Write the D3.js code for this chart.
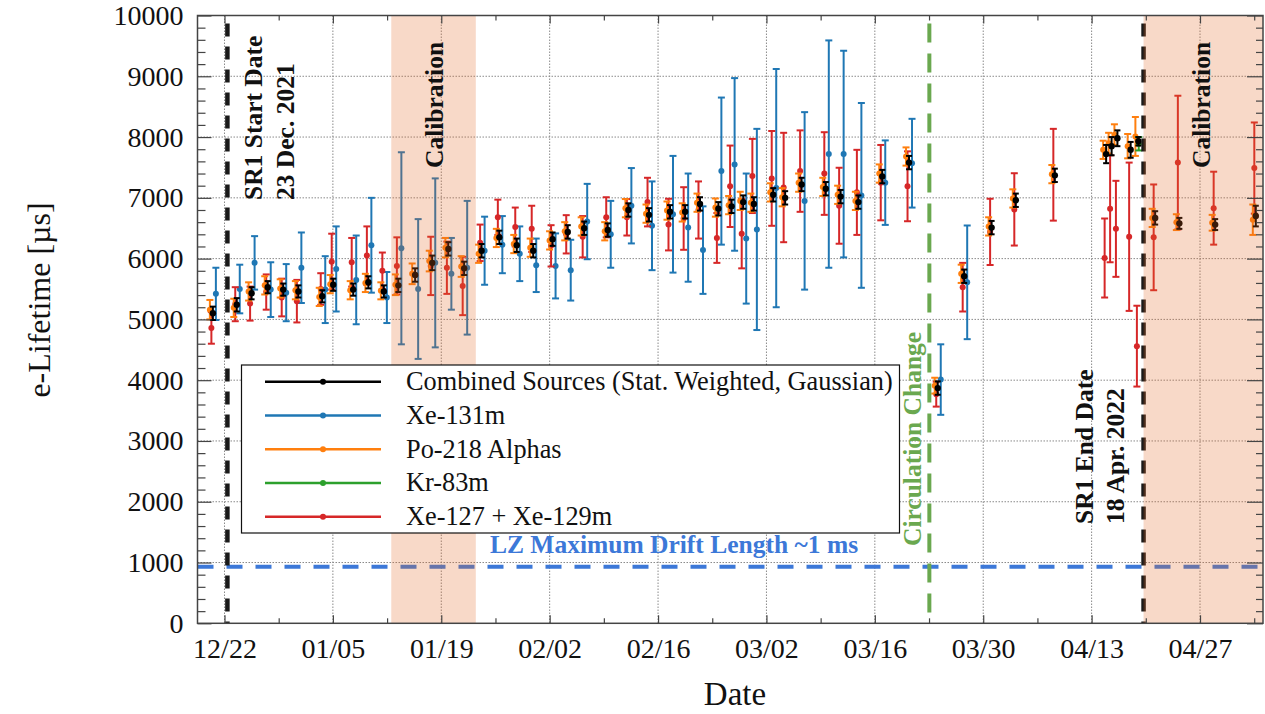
<!DOCTYPE html>
<html>
<head>
<meta charset="utf-8">
<script src="https://cdn.jsdelivr.net/npm/d3@7"></script>
<style>
  html, body { margin: 0; padding: 0; background: #fff; }
  svg { display: block; font-family: "Liberation Serif", "Times New Roman", serif; }
</style>
</head>
<body>
<svg id="chart" width="1265" height="714"></svg>
<script>
// ---- measurement dates (one per analysis window) ----
const groupDates = [
  "2021-12-20 12:00","2021-12-23 14:00","2021-12-25 12:00","2021-12-27 14:00","2021-12-29 14:00",
  "2021-12-31 13:00","2022-01-03 15:00","2022-01-05 01:00","2022-01-07 15:00","2022-01-09 14:00",
  "2022-01-11 14:00","2022-01-13 11:00","2022-01-15 15:00","2022-01-17 20:00","2022-01-19 22:00",
  "2022-01-21 23:00","2022-01-24 05:00","2022-01-26 12:00","2022-01-28 18:00","2022-01-30 21:00",
  "2022-02-02 09:00","2022-02-04 08:00","2022-02-06 11:00","2022-02-09 12:00","2022-02-12 04:00",
  "2022-02-14 20:00","2022-02-17 13:00","2022-02-19 12:00","2022-02-21 10:00","2022-02-23 19:00",
  "2022-02-25 12:00","2022-02-27 00:00","2022-02-28 09:00","2022-03-02 21:00","2022-03-04 10:00",
  "2022-03-06 13:00","2022-03-09 16:00","2022-03-11 14:00","2022-03-13 21:00","2022-03-16 23:00",
  "2022-03-20 10:00","2022-03-24 03:00","2022-03-27 13:00","2022-03-31 02:00","2022-04-03 05:00",
  "2022-04-08 06:00","2022-04-14 21:00","2022-04-15 14:00","2022-04-16 08:00","2022-04-18 01:00",
  "2022-04-19 01:00","2022-04-21 05:00","2022-04-24 08:00","2022-04-28 23:00","2022-05-04 05:00"
];

// Combined sources (stat. weighted, Gaussian), e-lifetime in µs
const combinedValues = [
  5100,5240,5430,5530,5490, 5460,5380,5570,5490,5610, 5460,5560,5730,5930,6160,
  5840,6130,6350,6220,6130, 6320,6440,6500,6470,6800, 6720,6770,6770,6900,6820,
  6860,6930,6900,7050,7000, 7220,7150,7020,6930,7350, 7580,3870,5710,6510,6960,
  7370,7720,7850,7980,7790, 7930,6670,6580,6560,6700
];
const combinedErrors = [
  110,110,100,100,100, 100,100,100,100,100, 100,110,110,120,110,
  110,110,110,110,110, 110,110,110,110,110, 110,110,110,110,110,
  110,110,110,110,110, 110,110,110,110,110, 110,110,110,110,110,
  110,150,150,130,130, 70,110,90,90,170
];

// Po-218 alphas
const po218Values = [
  5160,5190,5460,5560,5510, 5480,5370,5580,5480,5600, 5470,5570,5750,5960,6180,
  5870,6080,6340,6240,6180, 6300,6450,6530,6450,6830, 6740,6790,6760,6920,6840,
  6880,6950,6920,7090,7010, 7250,7180,7050,6950,7400, 7680,3910,5750,6530,6990,
  7390,7790,7900,8040,7850, 8010,6670,6600,6590,6640
];
const po218Errors = [
  160,150,150,150,150, 150,150,150,150,150, 140,170,170,170,160,
  170,150,150,150,150, 150,150,150,150,150, 150,150,150,150,150,
  150,150,150,150,150, 150,150,150,150,150, 150,130,150,150,150,
  150,150,170,170,200, 320,150,130,130,250
];

// Xe-131m (null where no fit is available)
const xe131mValues = [
  5420,5500,5930,5490,5440, 5850,5490,5830,5650,6220, 5360,6170,5500,5930,5750,
  5850,6130,6230,6080,5890, 5880,5810,6610,6400,6870, 6540,6730,6510,6140,7440,
  7550,6330,6480,7160,null, 6950,7720,7720,7040,7250, 7570,4010,5610,null,null,
  null,null,null,null,null, null,null,null,null,null
];
const xe131mErrors = [
  430,400,440,450,470, 580,550,700,730,780, 420,1580,1150,1390,590,
  1100,560,470,450,440, 535,500,620,550,620, 730,960,890,720,1210,
  1420,1070,1655,1960,null, 1460,1870,1700,1520,695, 730,580,935,null,null,
  null,null,null,null,null, null,null,null,null,null
];

// Xe-127 + Xe-129m
const xe127Values = [
  4860,5250,5260,5450,5360, 5300,5500,5950,5940,6050, 5800,5880,null,5880,5850,
  5550,6260,6680,6520,6490, 6210,6400,6360,6680,6680, 6930,6560,6660,6800,6340,
  7190,6410,7360,7320,7170, 7440,7400,6870,7090,7250, 7190,3770,5530,6440,6810,
  7380,6010,6820,6490,6360, 4560,6350,7580,6830,7490
];
const xe127Errors = [
  260,280,280,290,310, 350,260,460,400,480, 300,470,null,480,430,
  480,300,290,320,380, 340,315,340,330,300, 400,425,515,470,410,
  670,570,610,780,900, 670,680,625,700,620, 575,205,400,545,595,
  755,650,880,790,1220, 665,870,1100,600,750
];

// Kr-83m
const kr83mDates = ["2022-04-19 02:00"];
const kr83mValues = [7890];
const kr83mErrors = [110];

// axis ticks
const xTickDates = ["2021-12-22","2022-01-05","2022-01-19","2022-02-02","2022-02-16",
                    "2022-03-02","2022-03-16","2022-03-30","2022-04-13","2022-04-27"];
const xTickLabels = ["12/22","01/05","01/19","02/02","02/16","03/02","03/16","03/30","04/13","04/27"];
const yTicks = [0,1000,2000,3000,4000,5000,6000,7000,8000,9000,10000];

// run periods and markers
const calibrationPeriods = [
  ["2022-01-12 13:00", "2022-01-23 11:00"],
  ["2022-04-19 17:00", "2022-05-06 00:00"]
];
const sr1StartDate = "2021-12-22 09:00";
const sr1EndDate = "2022-04-19 17:00";
const circulationChangeDate = "2022-03-23 01:00";
const maxDriftLifetime = 930;

// ---- drawing ----
const parse = d3.utcParse("%Y-%m-%d %H:%M");
const parseDay = d3.utcParse("%Y-%m-%d");

const W = 1265, H = 714;
const plot = { left: 197.5, right: 1263, top: 15.5, bottom: 623.3 };

const x = d3.scaleUtc()
  .domain([parse("2021-12-18 12:19"), parse("2022-05-05 03:17")])
  .range([plot.left, plot.right]);
const y = d3.scaleLinear().domain([0, 10000]).range([plot.bottom, plot.top]);

const svg = d3.select("#chart");
svg.append("rect").attr("width", W).attr("height", H).attr("fill", "#fff");

const majorX = xTickDates.map(parseDay);
const minorX = d3.utcDay.range(parseDay("2021-12-22"), parseDay("2022-05-06"), 7)
  .filter((d, i) => i % 2 === 1);
const minorY = d3.range(0, 10001, 200).filter(v => v % 1000 !== 0);

// grid
const grid = svg.append("g").attr("stroke", "#8a8a8a").attr("stroke-width", 1)
  .attr("stroke-dasharray", "1.5,1.5");
grid.selectAll("line.gx").data(majorX).join("line")
  .attr("x1", d => x(d)).attr("x2", d => x(d))
  .attr("y1", plot.top).attr("y2", plot.bottom);
grid.selectAll("line.gy").data(yTicks.slice(1, -1)).join("line")
  .attr("x1", plot.left).attr("x2", plot.right)
  .attr("y1", d => y(d)).attr("y2", d => y(d));

// reference lines
svg.append("line")
  .attr("x1", plot.left).attr("x2", plot.right)
  .attr("y1", y(maxDriftLifetime)).attr("y2", y(maxDriftLifetime))
  .attr("stroke", "#3c78d8").attr("stroke-width", 4).attr("stroke-dasharray", "16,13");

function vline(dateStr, color, dash, width) {
  const xv = x(parse(dateStr));
  svg.append("line")
    .attr("x1", xv).attr("x2", xv)
    .attr("y1", plot.top + 8).attr("y2", plot.bottom)
    .attr("stroke", color).attr("stroke-width", width).attr("stroke-dasharray", dash);
}

// data series
function drawSeries(dates, values, errors, color, dx, capHalf, r) {
  const data = dates.map((d, i) => ({ t: parse(d), v: values[i], e: errors[i] }))
    .filter(d => d.v != null);
  const g = svg.append("g").attr("stroke", color).attr("fill", color);
  const cx = d => x(d.t) + dx;
  g.selectAll("line.bar").data(data).join("line")
    .attr("x1", cx).attr("x2", cx)
    .attr("y1", d => y(d.v - d.e)).attr("y2", d => y(d.v + d.e))
    .attr("stroke-width", 2);
  [1, -1].forEach(s => {
    g.selectAll(null).data(data).join("line")
      .attr("x1", d => cx(d) - capHalf).attr("x2", d => cx(d) + capHalf)
      .attr("y1", d => y(d.v + s * d.e)).attr("y2", d => y(d.v + s * d.e))
      .attr("stroke-width", 2);
  });
  g.selectAll("circle").data(data).join("circle")
    .attr("cx", cx).attr("cy", d => y(d.v)).attr("r", r).attr("stroke", "none");
}

const C_BLUE = "#1f77b4", C_ORANGE = "#ff7f0e", C_GREEN = "#2ca02c", C_RED = "#d62728", C_BLACK = "#000";

drawSeries(groupDates, xe131mValues, xe131mErrors, C_BLUE, 3, 3.5, 3);
drawSeries(groupDates, xe127Values, xe127Errors, C_RED, -1.5, 3.5, 3);
drawSeries(groupDates, po218Values, po218Errors, C_ORANGE, -3, 3.5, 3);
drawSeries(kr83mDates, kr83mValues, kr83mErrors, C_GREEN, 0, 3.5, 3);
drawSeries(groupDates, combinedValues, combinedErrors, C_BLACK, 0, 3, 3.2);

vline(sr1StartDate, "#1a1a1a", "13,10", 4.5);
vline(sr1EndDate, "#1a1a1a", "13,10", 4.5);
vline(circulationChangeDate, "#6aa84f", "19,11", 4);

// calibration periods (translucent overlay)
svg.append("g").selectAll("rect").data(calibrationPeriods).join("rect")
  .attr("x", d => x(parse(d[0])))
  .attr("width", d => Math.min(x(parse(d[1])), plot.right) - x(parse(d[0])))
  .attr("y", plot.top).attr("height", plot.bottom - plot.top)
  .attr("fill", "#e36723").attr("fill-opacity", 0.25);

// annotations
function vtext(txt, xb, ystart, color, size) {
  svg.append("text")
    .attr("transform", `translate(${xb},${ystart}) rotate(-90)`)
    .attr("font-size", size).attr("font-weight", "bold")
    .attr("fill", color).text(txt);
}
vtext("SR1 Start Date", x(parse(sr1StartDate)) + 35, 200, "#111", 25.5);
vtext("23 Dec. 2021", x(parse(sr1StartDate)) + 67, 200, "#111", 25.5);
vtext("Calibration", x(parse(calibrationPeriods[0][0])) + 52, 168, "#111", 25.5);
vtext("Calibration", x(parse(calibrationPeriods[1][0])) + 66, 168, "#111", 25.5);
vtext("Circulation Change", x(parse(circulationChangeDate)) - 8, 546, "#6aa84f", 25.5);
vtext("SR1 End Date", x(parse(sr1EndDate)) - 51, 524, "#111", 25.5);
vtext("18 Apr. 2022", x(parse(sr1EndDate)) - 20, 524, "#111", 25.5);

svg.append("text")
  .attr("x", 674).attr("y", y(maxDriftLifetime) - 14)
  .attr("text-anchor", "middle").attr("font-size", 25.5).attr("font-weight", "bold")
  .attr("fill", "#3c78d8").text("LZ Maximum Drift Length ~1 ms");

// axes (ticks pointing inward)
function styleAxis(g) {
  g.select(".domain").remove();
  g.selectAll(".tick line").attr("stroke", "#444").attr("stroke-width", 1.2);
  g.selectAll(".tick text").attr("font-family", "Liberation Serif, serif")
    .attr("font-size", 28).attr("fill", "#111");
}
svg.append("g").attr("transform", `translate(0,${plot.bottom})`)
  .call(d3.axisBottom(x).tickValues(majorX).tickFormat((d, i) => xTickLabels[i])
    .tickSize(-8).tickPadding(15)).call(styleAxis);
svg.append("g").attr("transform", `translate(0,${plot.bottom})`)
  .call(d3.axisBottom(x).tickValues(minorX).tickFormat("").tickSize(-5)).call(styleAxis);
svg.append("g").attr("transform", `translate(0,${plot.top})`)
  .call(d3.axisTop(x).tickValues(majorX).tickFormat("").tickSize(-8)).call(styleAxis);
svg.append("g").attr("transform", `translate(0,${plot.top})`)
  .call(d3.axisTop(x).tickValues(minorX).tickFormat("").tickSize(-5)).call(styleAxis);
svg.append("g").attr("transform", `translate(${plot.left},0)`)
  .call(d3.axisLeft(y).tickValues(yTicks).tickFormat(d3.format("d"))
    .tickSize(-14).tickPadding(14)).call(styleAxis);
svg.append("g").attr("transform", `translate(${plot.left},0)`)
  .call(d3.axisLeft(y).tickValues(minorY).tickFormat("").tickSize(-8)).call(styleAxis);
svg.append("g").attr("transform", `translate(${plot.right},0)`)
  .call(d3.axisRight(y).tickValues(yTicks).tickFormat("").tickSize(-16)).call(styleAxis);
svg.append("g").attr("transform", `translate(${plot.right},0)`)
  .call(d3.axisRight(y).tickValues(minorY).tickFormat("").tickSize(-7)).call(styleAxis);

// frame
svg.append("rect")
  .attr("x", plot.left).attr("y", plot.top)
  .attr("width", plot.right - plot.left).attr("height", plot.bottom - plot.top)
  .attr("fill", "none").attr("stroke", "#444").attr("stroke-width", 1.5);

// axis titles
svg.append("text").attr("x", 735).attr("y", 705).attr("text-anchor", "middle")
  .attr("font-size", 33).attr("fill", "#111").text("Date");
svg.append("text").attr("transform", "translate(50,300) rotate(-90)")
  .attr("text-anchor", "middle").attr("font-size", 32).attr("fill", "#111")
  .text("e-Lifetime [µs]");

// legend
const legendItems = [
  { name: "Combined Sources (Stat. Weighted, Gaussian)", color: C_BLACK },
  { name: "Xe-131m", color: C_BLUE },
  { name: "Po-218 Alphas", color: C_ORANGE },
  { name: "Kr-83m", color: C_GREEN },
  { name: "Xe-127 + Xe-129m", color: C_RED }
];
const lg = svg.append("g");
lg.append("rect").attr("x", 241.5).attr("y", 365).attr("width", 658).attr("height", 168)
  .attr("fill", "#fff").attr("stroke", "#111").attr("stroke-width", 1.2);
const rows = lg.selectAll("g.row").data(legendItems).join("g")
  .attr("transform", (d, i) => `translate(0,${381.7 + i * 33.75})`);
rows.append("line").attr("x1", 265).attr("x2", 381).attr("stroke", d => d.color).attr("stroke-width", 2.5);
rows.append("circle").attr("cx", 323).attr("r", 3).attr("fill", d => d.color);
rows.append("text").attr("x", 406).attr("y", 8.5).attr("font-size", 26.3).attr("fill", "#111")
  .text(d => d.name);
</script>
</body>
</html>
